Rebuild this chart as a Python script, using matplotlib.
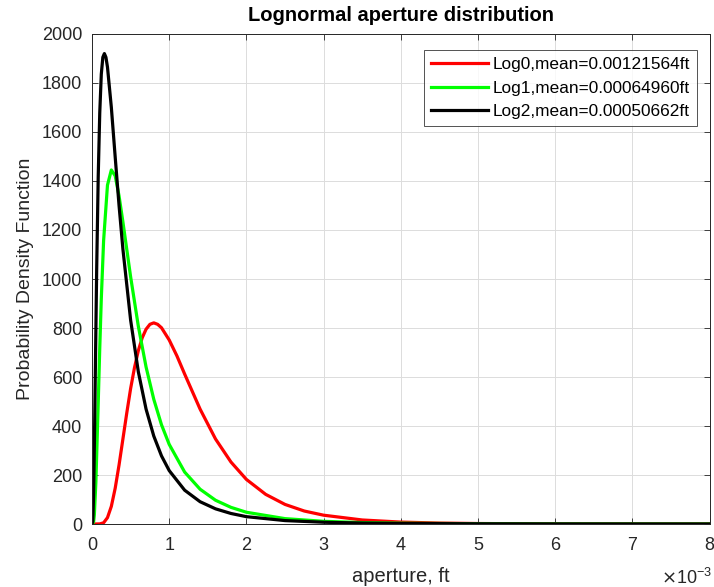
import matplotlib
matplotlib.use("Agg")
import matplotlib.pyplot as plt

plt.rcParams['font.family'] = ['Liberation Sans', 'DejaVu Sans']

# aperture in units of 1e-3 ft, pdf values
x_log0 = [0, 0.1, 0.15, 0.2, 0.25, 0.3, 0.35, 0.4, 0.45, 0.5, 0.55, 0.6, 0.65, 0.7, 0.75,
          0.8, 0.85, 0.9, 1.0, 1.1, 1.2, 1.4, 1.6, 1.8, 2.0, 2.25, 2.5, 2.75, 3.0, 3.5, 4.0, 4.5,
          5.0, 6.0, 7.0, 8.0]
y_log0 = [0, 0.4, 5, 26, 72, 146, 241, 347, 453, 553, 638, 708, 760, 795, 815,
          821, 815, 801, 751, 686, 612, 469, 347, 253, 182, 121, 80, 53, 36, 16.5, 7.9, 3.9,
          2.0, 0.6, 0.2, 0.06]

x_log1 = [0, 0.02, 0.03, 0.05, 0.08, 0.1, 0.12, 0.15, 0.2, 0.25, 0.3, 0.35, 0.4, 0.5,
          0.6, 0.7, 0.8, 0.9, 1.0, 1.2, 1.4, 1.6, 1.8, 2.0, 2.5, 3.0, 3.5, 4.0,
          5.0, 6.0, 7.0, 8.0]
y_log1 = [0, 8, 37, 172, 493, 717, 919, 1157, 1383, 1445, 1421, 1339, 1233, 1009,
          807, 641, 509, 405, 325, 212, 142, 97, 68, 48, 22, 11, 5.9, 3.3,
          1.2, 0.5, 0.2, 0.1]

x_log2 = [0, 0.01, 0.02, 0.03, 0.04, 0.06, 0.08, 0.1, 0.12, 0.14, 0.16, 0.18, 0.2,
          0.25, 0.3, 0.35, 0.4, 0.5, 0.6, 0.7, 0.8, 0.9, 1.0, 1.2, 1.4, 1.6, 1.8,
          2.0, 2.5, 3.0, 3.5, 4.0, 5.0, 6.0, 7.0, 8.0]
y_log2 = [0, 13, 116, 313, 555, 1036, 1417, 1678, 1836, 1905, 1920, 1905, 1865,
          1701, 1498, 1300, 1122, 832, 621, 469, 359, 278, 218, 138, 91, 62, 43,
          30, 14, 7.2, 4.0, 2.3, 0.9, 0.4, 0.2, 0.1]

labels = ['Log0,mean=0.00121564ft', 'Log1,mean=0.00064960ft', 'Log2,mean=0.00050662ft']

fig = plt.figure(figsize=(7.14, 5.87), dpi=100)
ax = fig.add_axes([0.1289, 0.1073, 0.8648, 0.8348])

ax.plot(x_log0, y_log0, color='#ff0000', lw=2.3, label=labels[0])
ax.plot(x_log1, y_log1, color='#00ff00', lw=2.3, label=labels[1])
ax.plot(x_log2, y_log2, color='black', lw=2.3, label=labels[2])

ax.set_xlim(0, 8)
ax.set_ylim(0, 2000)
ax.set_xticks(range(0, 9))
ax.set_yticks(range(0, 2001, 200))
ax.grid(True, color='#dcdcdc', lw=0.7)
ax.set_axisbelow(True)
ax.tick_params(direction='in', top=True, right=True, labelsize=13,
               colors='#262626', length=4, width=0.6)
ax.tick_params(axis='x', pad=9)
ax.tick_params(axis='y', pad=7)
for s in ax.spines.values():
    s.set_color('#262626')
    s.set_linewidth(0.7)

ax.set_title('Lognormal aperture distribution', fontsize=14.5, fontweight='bold', pad=9)
ax.set_xlabel('aperture, ft', fontsize=14.5, color='#262626', labelpad=10)
ax.set_ylabel('Probability Density Function', fontsize=14, color='#262626', labelpad=6)
ax.text(0.922, -0.11, r'$\times$10$^{\mathregular{-3}}$', transform=ax.transAxes,
        ha='left', va='center', fontsize=13, color='#262626')

leg = ax.legend(loc='upper right', bbox_to_anchor=(0.98, 0.967), fontsize=12.4,
                frameon=True, fancybox=False, edgecolor='#262626', handlelength=3.3,
                borderaxespad=0, labelspacing=0.5, handletextpad=0.3, borderpad=0.4)
leg.get_frame().set_linewidth(0.7)

fig.savefig('out.png', dpi=100, facecolor='white')
